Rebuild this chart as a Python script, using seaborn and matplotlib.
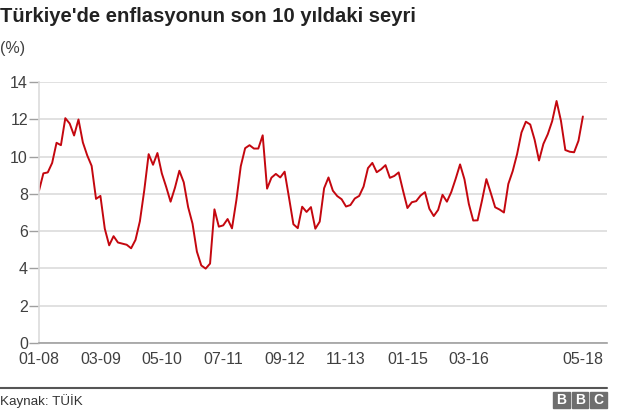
import numpy as np
import pandas as pd
import seaborn as sns
import matplotlib.pyplot as plt
from matplotlib.patches import Rectangle

# annual CPI, monthly, 01-2008 .. 05-2018
y2008 = [8.17, 9.10, 9.15, 9.66, 10.74, 10.61, 12.06, 11.77, 11.13, 11.99, 10.76, 10.06]
y2009 = [9.50, 7.73, 7.89, 6.13, 5.24, 5.73, 5.39, 5.33, 5.27, 5.08, 5.53, 6.53]
y2010 = [8.19, 10.13, 9.56, 10.19, 9.10, 8.37, 7.58, 8.33, 9.24, 8.62, 7.29, 6.40]
y2011 = [4.90, 4.16, 3.99, 4.26, 7.17, 6.24, 6.31, 6.65, 6.15, 7.66, 9.48, 10.45]
y2012 = [10.61, 10.43, 10.43, 11.14, 8.28, 8.87, 9.07, 8.88, 9.19, 7.80, 6.37, 6.16]
y2013 = [7.31, 7.03, 7.29, 6.13, 6.51, 8.30, 8.88, 8.17, 7.88, 7.71, 7.32, 7.40]
y2014 = [7.75, 7.89, 8.39, 9.38, 9.66, 9.16, 9.32, 9.54, 8.86, 8.96, 9.15, 8.17]
y2015 = [7.24, 7.55, 7.61, 7.91, 8.09, 7.20, 6.81, 7.14, 7.95, 7.58, 8.10, 8.81]
y2016 = [9.58, 8.78, 7.46, 6.57, 6.58, 7.64, 8.79, 8.05, 7.28, 7.16, 7.00, 8.53]
y2017 = [9.22, 10.13, 11.29, 11.87, 11.72, 10.90, 9.79, 10.68, 11.20, 11.90, 12.98, 11.92]
y2018 = [10.35, 10.26, 10.23, 10.85, 12.15]

tick_pos = [0, 14, 28, 42, 56, 70, 84, 98, 124]
tick_labels = ["01-08", "03-09", "05-10", "07-11", "09-12", "11-13", "01-15", "03-16", "05-18"]

values = y2008 + y2009 + y2010 + y2011 + y2012 + y2013 + y2014 + y2015 + y2016 + y2017 + y2018
df = pd.DataFrame({"ay": np.arange(len(values)), "enflasyon": values})

sns.set_style("white")
plt.rcParams["font.family"] = ["Liberation Sans", "DejaVu Sans"]

fig = plt.figure(figsize=(6.4, 4.13), dpi=100)
ax = fig.add_axes([39 / 640, 1 - 343 / 413, (607 - 39) / 640, (343 - 82) / 413])

sns.lineplot(data=df, x="ay", y="enflasyon", ax=ax, color="#c4070f", linewidth=1.4)

ax.set_xlim(0, 129.5)
ax.set_ylim(0, 14)
ax.set_yticks(range(0, 15, 2))
ax.set_xticks(tick_pos)
ax.set_xticklabels(tick_labels)
ax.set_xlabel("")
ax.set_ylabel("")
ax.grid(axis="y", color="#dcdcdc", linewidth=1.2)
ax.set_axisbelow(True)
for s in ["top", "right"]:
    ax.spines[s].set_visible(False)
ax.spines["left"].set_color("#dcdcdc")
ax.spines["left"].set_linewidth(1.2)
ax.spines["bottom"].set_color("#a0a0a0")
ax.spines["bottom"].set_linewidth(1.2)
ax.tick_params(axis="y", left=True, length=7, width=1, color="#a0a0a0",
               labelsize=11.5, labelcolor="#404040", pad=1)
ax.tick_params(axis="x", bottom=False, labelsize=11.5, labelcolor="#404040", pad=3)

fig.text(0, 1 - 16 / 413, "Türkiye'de enflasyonun son 10 yıldaki seyri",
         fontsize=14.6, fontweight="bold", color="#222222", va="center", ha="left")
fig.text(0, 1 - 48 / 413, "(%)", fontsize=11.5, color="#404040", va="center", ha="left")

# footer
fig.add_artist(plt.Line2D([0, 607 / 640], [1 - 388 / 413] * 2, color="#555555", linewidth=1.5))
fig.text(0, 1 - 401 / 413, "Kaynak: TÜİK", fontsize=9.6, color="#333333", va="center", ha="left")
for i, letter in enumerate("BBC"):
    x0 = (553 + i * 18.5) / 640
    fig.add_artist(Rectangle((x0, 1 - 408 / 413), 16.5 / 640, 16 / 413,
                             transform=fig.transFigure, color="#6e6e6e"))
    fig.text(x0 + 8.25 / 640, 1 - 400 / 413, letter, fontsize=10, fontweight="bold",
             color="white", ha="center", va="center")

fig.savefig("out.png", dpi=100)
